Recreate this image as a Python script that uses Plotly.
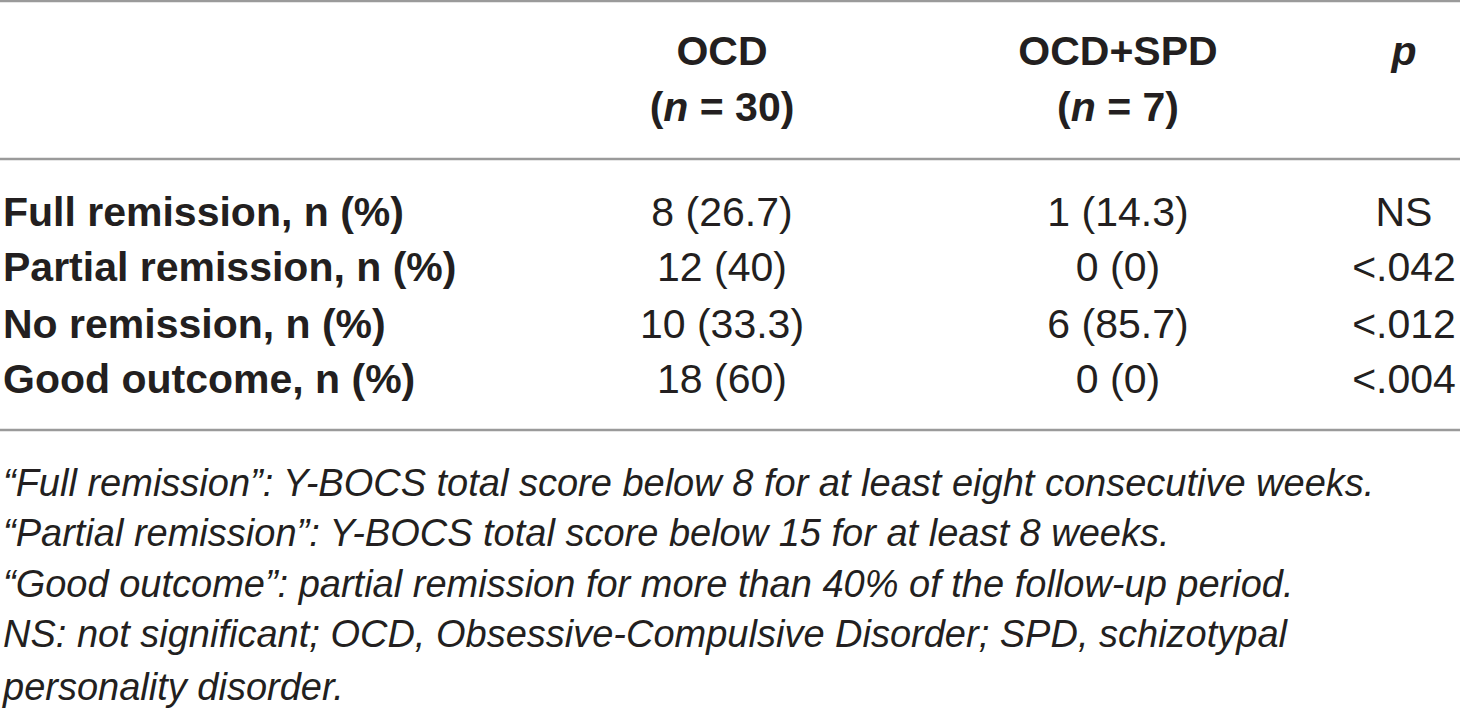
import plotly.graph_objects as go

# table contents
col_heads = ["OCD", "OCD+SPD", "<i>p</i>"]
col_sizes = ["(<i>n</i> = 30)", "(<i>n</i> = 7)", ""]
row_labels = ["Full remission, n (%)", "Partial remission, n (%)",
              "No remission, n (%)", "Good outcome, n (%)"]
ocd_vals = ["8 (26.7)", "12 (40)", "10 (33.3)", "18 (60)"]
spd_vals = ["1 (14.3)", "0 (0)", "6 (85.7)", "0 (0)"]
p_vals = ["NS", "<.042", "<.012", "<.004"]
footnotes = [
    "\u201cFull remission\u201d: Y-BOCS total score below 8 for at least eight consecutive weeks.",
    "\u201cPartial remission\u201d: Y-BOCS total score below 15 for at least 8 weeks.",
    "\u201cGood outcome\u201d: partial remission for more than 40% of the follow-up period.",
    "NS: not significant; OCD, Obsessive-Compulsive Disorder; SPD, schizotypal",
    "personality disorder.",
]

W, H = 1460, 708
col_x = [722, 1118, 1404]
row_y = [216, 271, 328, 383]
foot_y = [486, 536, 587, 637, 690]
FONT = "Liberation Sans, Arial, sans-serif"
ink = "#231f20"
BODY = 41

fig = go.Figure()

# header
fig.add_trace(go.Scatter(x=col_x, y=[55] * 3, mode="text",
                         text=["<b>%s</b>" % t for t in col_heads],
                         textposition="middle center",
                         textfont=dict(family=FONT, size=BODY, color=ink)))
fig.add_trace(go.Scatter(x=col_x, y=[111] * 3, mode="text",
                         text=["<b>%s</b>" % t if t else "" for t in col_sizes],
                         textposition="middle center",
                         textfont=dict(family=FONT, size=BODY, color=ink)))

# row labels
fig.add_trace(go.Scatter(x=[3] * len(row_labels), y=row_y, mode="text",
                         text=["<b>%s</b>" % t for t in row_labels],
                         textposition="middle right",
                         textfont=dict(family=FONT, size=BODY, color=ink)))

# value columns
for cx, vals in zip(col_x, [ocd_vals, spd_vals, p_vals]):
    fig.add_trace(go.Scatter(x=[cx] * len(vals), y=row_y, mode="text",
                             text=[v.replace("<", "&lt;") for v in vals],
                             textposition="middle center",
                             textfont=dict(family=FONT, size=BODY, color=ink)))

# footnotes
fig.add_trace(go.Scatter(x=[3] * len(footnotes), y=foot_y, mode="text",
                         text=["<i>%s</i>" % t for t in footnotes],
                         textposition="middle right",
                         textfont=dict(family=FONT, size=38, color=ink)))

# rules
for yy in [1, 159, 430]:
    fig.add_shape(type="line", x0=0, x1=W, y0=yy, y1=yy, xref="x", yref="y",
                  line=dict(color="#9a9a9a", width=2.5))

fig.update_layout(width=W, height=H, showlegend=False,
                  margin=dict(l=0, r=0, t=0, b=0),
                  paper_bgcolor="white", plot_bgcolor="white",
                  xaxis=dict(range=[0, W], visible=False, fixedrange=True),
                  yaxis=dict(range=[H, 0], visible=False, fixedrange=True))

fig.write_html("out.html", config={"displayModeBar": False},
               post_script="document.body.style.margin='0';")
